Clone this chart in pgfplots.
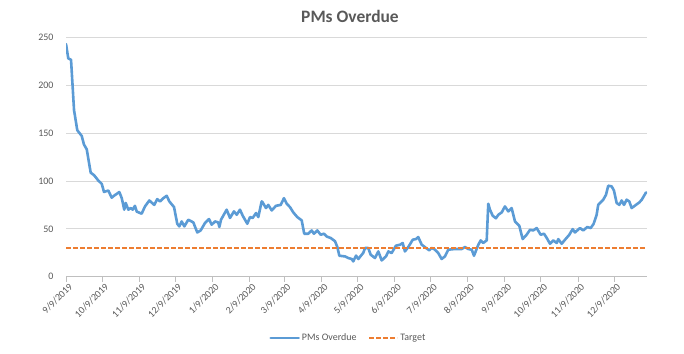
\documentclass[border=0pt]{standalone}
\usepackage{pgfplots}
\pgfplotsset{compat=1.18}
\usepackage{fontspec}
\setmainfont{Carlito}
\definecolor{exblue}{HTML}{5B9BD5}
\definecolor{exorange}{HTML}{ED7D31}
\definecolor{txt}{HTML}{595959}
\definecolor{gridc}{HTML}{D9D9D9}
\definecolor{axc}{HTML}{BFBFBF}
\begin{document}
\begin{tikzpicture}
\path[use as bounding box] (0bp,0bp) rectangle (684bp,354bp);
\node[anchor=base, text=txt, font=\bfseries\fontsize{17.5}{20}\selectfont] at (350bp,331.5bp) {PMs Overdue};
\begin{axis}[
  at={(66bp,77.3bp)}, anchor=south west,
  scale only axis, width=581bp, height=239.4bp,
  xmin=0, xmax=484.6, ymin=0, ymax=250,
  ytick={0,50,100,150,200,250},
  xtick={0,30,61,91,122,153,182,213,243,274,304,335,366,396,427,457},
  xticklabels={9/9/2019,10/9/2019,11/9/2019,12/9/2019,1/9/2020,2/9/2020,3/9/2020,4/9/2020,5/9/2020,6/9/2020,7/9/2020,8/9/2020,9/9/2020,10/9/2020,11/9/2020,12/9/2020},
  axis x line*=bottom, axis y line*=left,
  y axis line style={draw=none},
  x axis line style={draw=axc, line width=0.75bp},
  ytick style={draw=none},
  xtick style={draw=axc, line width=0.75bp},
  tick align=outside, major tick length=5bp,
  ymajorgrids, major grid style={draw=gridc, line width=0.75bp},
  /pgf/number format/assume math mode=true,
  tick label style={font=\fontsize{10}{12}\selectfont, text=txt},
  yticklabel style={anchor=east, xshift=-4bp},
  xticklabel style={rotate=45, anchor=east, inner sep=1bp, xshift=2bp, yshift=-6bp},
  legend style={at={(0.486,-0.256)}, anchor=center, legend columns=2, draw=none, fill=none,
    font=\fontsize{10}{12}\selectfont, text=txt,
    /tikz/every even column/.append style={column sep=10bp}},
  legend image code/.code={\draw[#1] (0bp,0bp) -- (28bp,0bp);},
]
\addplot[exblue, line width=2.6bp, line join=round, line cap=round] coordinates {
(0,243) (1.9,228) (4.2,226.5) (6.7,174) (9.4,153) (13.1,147) (15,138) (17.3,133)
(20.6,108.6) (23.4,106) (26.9,100.5) (29.8,97) (31.7,88.5) (35.3,90) (38.1,82.5)
(40,84.5) (44.5,88.4) (46.5,82) (48.6,70) (49.8,77) (52,70) (54,71.7) (55.6,70)
(57.5,74) (59,68) (63.1,65.8) (65.9,73.4) (69.5,79.6) (73.6,75) (76.1,81) (78.4,78.6)
(81.2,82) (84,84.5) (86.2,78.6) (90.1,72.7) (92.8,55.3) (94.5,52.5) (96.5,57.7)
(98.7,52.5) (102,59.5) (106.2,56.7) (109.5,46.2) (112.3,48.3) (115.9,56) (119.3,60.2)
(121.5,54.3) (124.3,57.7) (127,56.7) (127.9,51.9) (129.3,59.5) (134,70) (136.8,61.3)
(140.1,68.2) (142.4,64.7) (145.1,70) (147.4,63.7) (151.2,55.3) (153.5,62.3) (155.7,61.3)
(158.5,66.5) (160.4,62.3) (163.2,78.6) (164,77.6) (166.8,71.7) (168.7,75) (171.6,69.2)
(175.1,74) (179.1,75) (181.8,82) (184.1,76.2) (186.8,72.7) (189.6,67.1) (192.9,62.3)
(196.6,58.8) (198.7,44.9) (202.1,44.9) (204.9,48.3) (206.8,44.9) (209.6,48.3)
(212.4,43.8) (215.2,44.9) (217.4,42) (220.8,40.4) (224.4,37) (226.3,31) (228,21.9)
(232.7,21.2) (235.4,19.5) (238.3,18.5) (239.6,16) (241.9,22) (243.8,18.5) (248,25)
(249.4,30) (252.1,30) (254.1,23) (257.7,19.5) (260.5,26.4) (263.3,17) (266.9,21.2)
(268.9,26.4) (271.6,24.7) (275.2,32.4) (278.6,33.4) (280.8,35.2) (282.7,26.4)
(285.5,31) (289.2,38.6) (291.9,39.3) (293.8,41.4) (296.7,33.4) (300.3,30) (303,27.5)
(305,30) (307.8,28.2) (310.5,24.7) (313.3,18.5) (316.1,21.2) (318.8,28.2) (324.4,28.9)
(330,28.9) (332.8,31) (335.5,28.9) (338.4,28.2) (340.3,21.9) (343.9,33.4) (345.9,37.9)
(348,35.2) (350.9,37.9) (352.2,76.2) (353.6,70) (355.9,63.7) (358.6,61) (360.6,64.7)
(363.4,67.1) (366.1,73.4) (368.9,68.2) (371.7,71.7) (374.5,57.7) (378.1,53.2)
(380.9,39.3) (384.2,43.8) (387,49) (389.7,48.3) (392.6,50.8) (395.9,43.8) (398.7,44.9)
(401,40.4) (403.7,34.4) (406.4,37.9) (409.3,35.2) (410.6,39.3) (413.4,34.4) (416.2,38.6)
(419.8,43.8) (422.6,49.7) (424.5,46.2) (428.7,50.8) (431.4,48.3) (434.8,51.9)
(437.6,50.8) (440,55) (442.6,64.7) (443.9,75) (448.1,80.4) (450.4,85.6) (452.3,95)
(455.1,94.3) (457,90.1) (459.3,77) (461.5,75) (463.5,79.6) (465.4,75) (467.6,80.4)
(469.8,78.6) (471.8,71.7) (475.4,75) (478.2,77.6) (480.2,80.4) (483.8,88)
};
\addlegendentry{PMs Overdue}
\addplot[exorange, line width=1.8bp, dash pattern=on 4.5bp off 2.5bp] coordinates {(0,30) (484.6,30)};
\addlegendentry{Target}
\end{axis}
\end{tikzpicture}
\end{document}
